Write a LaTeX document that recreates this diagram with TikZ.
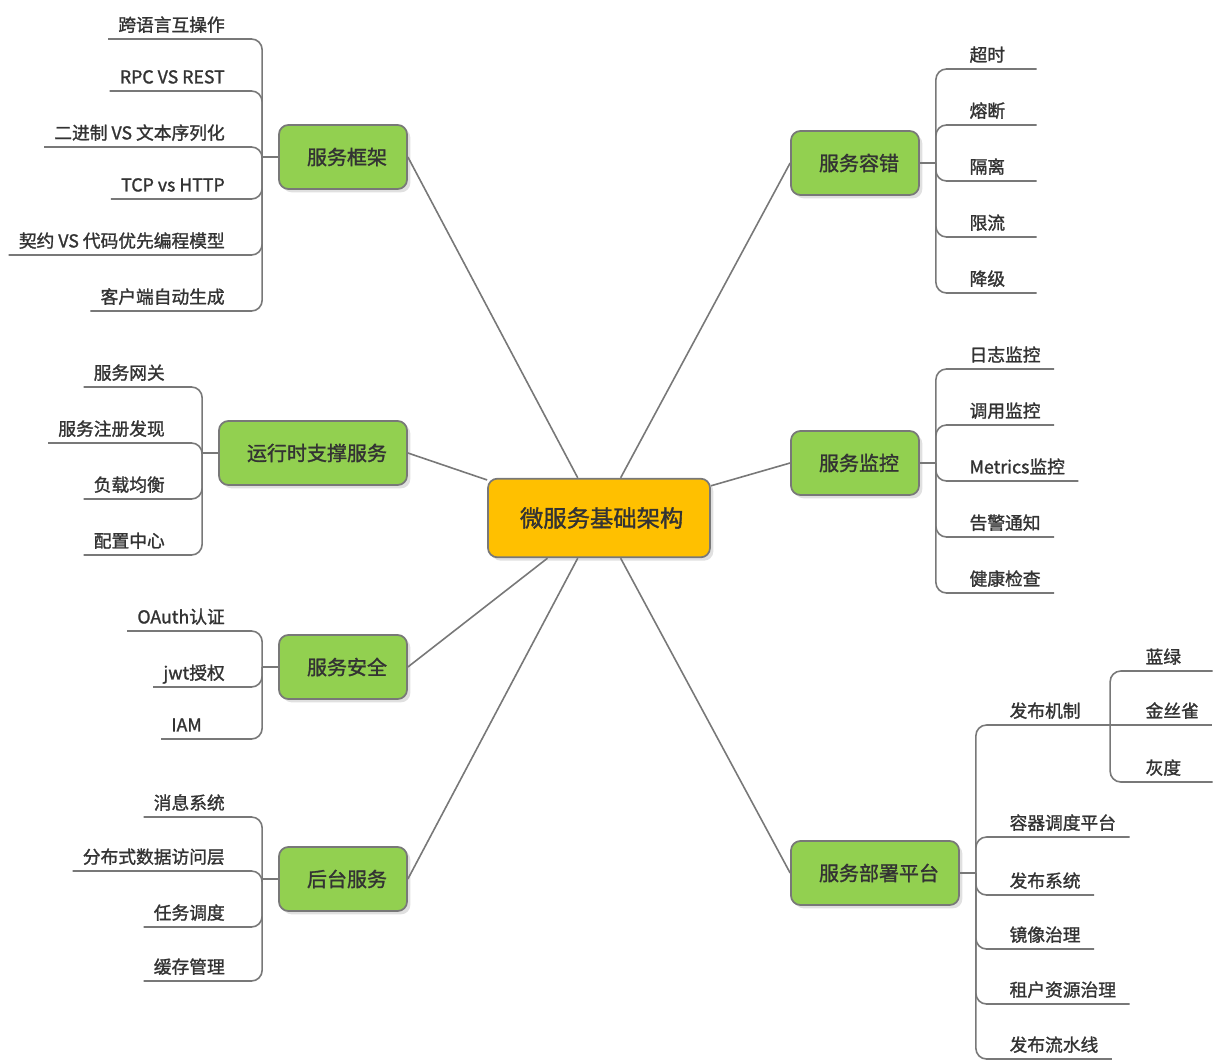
\documentclass[tikz,border=0pt]{standalone}
\usepackage{fontspec}
\setmainfont{Noto Sans CJK SC}[FakeBold=1.4]
\usetikzlibrary{positioning,shadows}
\definecolor{linegray}{HTML}{787878}
\definecolor{inkgray}{HTML}{333333}
\definecolor{topicgreen}{HTML}{92D050}
\definecolor{rootorange}{HTML}{FFC000}

\begin{document}
\begin{tikzpicture}[x=0.75pt,y=-0.75pt,
			root/.style={draw=linegray,line width=1.3pt,fill=rootorange,rounded corners=7pt,inner xsep=20pt,minimum height=59pt,font=\fontsize{17.5}{20}\selectfont,text=inkgray,execute at begin node=\hspace{4pt},drop shadow={shadow xshift=2.5pt,shadow yshift=-2.5pt,fill=black!20,opacity=.6}},
			topic/.style={draw=linegray,line width=1.3pt,fill=topicgreen,rounded corners=7pt,minimum height=48pt,inner xsep=15pt,font=\fontsize{15}{18}\selectfont,text=inkgray,execute at begin node=\hspace{6pt},drop shadow={shadow xshift=2.5pt,shadow yshift=-2.5pt,fill=black!20,opacity=.6}},
			lleaf/.style={anchor=south east,inner xsep=7.5pt,inner ysep=5.5pt,text depth=0pt,font=\fontsize{13.3}{16}\selectfont,text=inkgray},
			rleaf/.style={lleaf,anchor=south west,inner xsep=10pt},
			short/.style={text width=40pt},
			spoke/.style={draw=linegray,line width=1.2pt},
			twig/.style={draw=linegray,line width=1.2pt,rounded corners=8pt}
			]
			\useasboundingbox (0,0) rectangle (1216,1062);
			% root and topics
			\node[root] (cen) at (599,518) {微服务基础架构};
			\node[topic] (kj) at (343,157) {服务框架};
			\node[topic] (yx) at (313,453) {运行时支撑服务};
			\node[topic] (aq) at (343,667) {服务安全};
			\node[topic] (ht) at (343,879) {后台服务};
			\node[topic] (rc) at (855,163) {服务容错};
			\node[topic] (jk) at (855,463) {服务监控};
			\node[topic] (bs) at (875,873) {服务部署平台};
			\foreach \t in {kj,yx,aq,ht} \draw[spoke] (\t.east) -- (cen);
			\foreach \t in {rc,jk,bs} \draw[spoke] (\t.west) -- (cen);
			% bracket joints
			\foreach \t in {kj,yx,aq,ht} {
				\coordinate[left=12pt of \t.west] (\t b);
				\draw[spoke] (\t.west) -- (\t b);
			}
			\foreach \t in {rc,jk,bs} {
				\coordinate[right=12pt of \t.east] (\t b);
				\draw[spoke] (\t.east) -- (\t b);
			}
			% left leaves
			\node[lleaf] (kj1) at (235,39) {跨语言互操作};
			\node[lleaf] (kj2) at (235,91) {RPC VS REST};
			\node[lleaf] (kj3) at (235,147) {二进制 VS 文本序列化};
			\node[lleaf] (kj4) at (235,199) {TCP vs HTTP};
			\node[lleaf] (kj5) at (235,255) {契约 VS 代码优先编程模型};
			\node[lleaf] (kj6) at (235,311) {客户端自动生成};
			\foreach \i in {1,...,6} \draw[twig] (kjb) |- (kj\i.south west);
			\node[lleaf] (yx1) at (175,387) {服务网关};
			\node[lleaf] (yx2) at (175,443) {服务注册发现};
			\node[lleaf] (yx3) at (175,499) {负载均衡};
			\node[lleaf] (yx4) at (175,555) {配置中心};
			\foreach \i in {1,...,4} \draw[twig] (yxb) |- (yx\i.south west);
			\node[lleaf] (aq1) at (235,631) {OAuth认证};
			\node[lleaf] (aq2) at (235,687) {jwt授权};
			\node[lleaf,short] (aq3) at (235,739) {IAM};
			\foreach \i in {1,...,3} \draw[twig] (aqb) |- (aq\i.south west);
			\node[lleaf] (ht1) at (235,817) {消息系统};
			\node[lleaf] (ht2) at (235,871) {分布式数据访问层};
			\node[lleaf] (ht3) at (235,927) {任务调度};
			\node[lleaf] (ht4) at (235,981) {缓存管理};
			\foreach \i in {1,...,4} \draw[twig] (htb) |- (ht\i.south west);
			% right leaves
			\node[rleaf,short] (rc1) at (956,69) {超时};
			\node[rleaf,short] (rc2) at (956,125) {熔断};
			\node[rleaf,short] (rc3) at (956,181) {隔离};
			\node[rleaf,short] (rc4) at (956,237) {限流};
			\node[rleaf,short] (rc5) at (956,293) {降级};
			\foreach \i in {1,...,5} \draw[twig] (rcb) |- (rc\i.south east);
			\node[rleaf] (jk1) at (956,369) {日志监控};
			\node[rleaf] (jk2) at (956,425) {调用监控};
			\node[rleaf] (jk3) at (956,481) {Metrics监控};
			\node[rleaf] (jk4) at (956,537) {告警通知};
			\node[rleaf] (jk5) at (956,593) {健康检查};
			\foreach \i in {1,...,5} \draw[twig] (jkb) |- (jk\i.south east);
			\node[rleaf] (bs1) at (996,725) {发布机制};
			\node[rleaf] (bs2) at (996,837) {容器调度平台};
			\node[rleaf] (bs3) at (996,895) {发布系统};
			\node[rleaf] (bs4) at (996,949) {镜像治理};
			\node[rleaf] (bs5) at (996,1004) {租户资源治理};
			\node[rleaf] (bs6) at (996,1059) {发布流水线};
			\coordinate[right=12pt of bs1.south east] (bs1b);
			\draw[twig] (bsb) |- (bs1b);
			\foreach \i in {2,...,6} \draw[twig] (bsb) |- (bs\i.south east);
			% release strategies
			\node[rleaf,short] (fb1) at (1132,671) {蓝绿};
			\node[rleaf] (fb2) at (1132,725) {金丝雀};
			\node[rleaf,short] (fb3) at (1132,782) {灰度};
			\draw[twig] (bs1b) |- (fb1.south east);
			\draw[spoke] (bs1b) -- (fb2.south east);
			\draw[twig] (bs1b) |- (fb3.south east);
		\end{tikzpicture}
\end{document}
